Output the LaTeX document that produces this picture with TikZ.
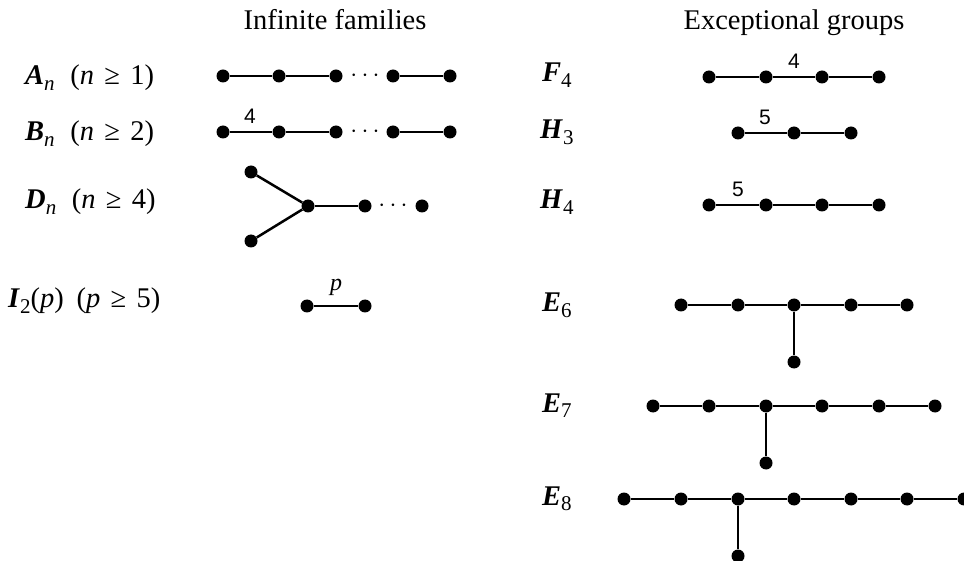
\documentclass[tikz,border=0pt]{standalone}
\usepackage{fontspec}
\setmainfont{Liberation Serif}
\newfontfamily\numfont{Liberation Sans}
\newcommand{\grp}[2]{\textbf{\textit{#1}}\raisebox{-0.2em}{\fontsize{21}{21}\selectfont #2}}
\newcommand{\gq}{\hspace{0.36em}≥\hspace{0.36em}}
\tikzset{
  vtx/.style={circle, fill=black, inner sep=0pt, minimum size=13pt},
  bond/.style={line width=2.5pt},
  grplabel/.style={anchor=base west, inner sep=0pt, font=\fontsize{28.5}{34}\selectfont},
  header/.style={anchor=base, inner sep=0pt, font=\fontsize{28.5}{34}\selectfont},
  mark4/.style={inner sep=0pt, font=\numfont\fontsize{21}{24}\selectfont},
  dotsnode/.style={inner sep=0pt, font=\fontsize{28}{34}\selectfont}
}
\begin{document}
\begin{tikzpicture}[x=1pt,y=-1pt]
\useasboundingbox (0,0) rectangle (964,561);
% headers
\node[header] (hinf) at (335,30) {Infinite families};
\node[header] (hexc) at (794,30) {Exceptional groups};
% labels left
\node[grplabel] (lA) at (25,85) {\grp{A}{\textit{n}}\hspace{0.55em}(\textit{n}\gq 1)};
\node[grplabel] (lB) at (25,141) {\grp{B}{\textit{n}}\hspace{0.55em}(\textit{n}\gq 2)};
\node[grplabel] (lD) at (25,209) {\grp{D}{\textit{n}}\hspace{0.55em}(\textit{n}\gq 4)};
\node[grplabel] (lI) at (8,308) {\grp{I}{2}(\textit{p})\hspace{0.45em}(\textit{p}\gq 5)};
% labels right
\node[grplabel] (lF) at (542,82) {\grp{F}{4}};
\node[grplabel] (lH3) at (540,139) {\grp{H}{3}};
\node[grplabel] (lH4) at (540,209) {\grp{H}{4}};
\node[grplabel] (lE6) at (542,312) {\grp{E}{6}};
\node[grplabel] (lE7) at (542,412) {\grp{E}{7}};
\node[grplabel] (lE8) at (542,505) {\grp{E}{8}};
% A_n
\node[vtx] (a1) at (223,76) {};
\node[vtx] (a2) at (279,76) {};
\node[vtx] (a3) at (336,76) {};
\node[vtx] (a4) at (393,76) {};
\node[vtx] (a5) at (450,76) {};
\node[dotsnode] (ad) at (365,76) {$\cdots$};
\draw[bond] (a1) -- (a2) -- (a3);
\draw[bond] (a4) -- (a5);
% B_n
\node[vtx] (b1) at (223,132) {};
\node[vtx] (b2) at (279,132) {};
\node[vtx] (b3) at (336,132) {};
\node[vtx] (b4) at (393,132) {};
\node[vtx] (b5) at (450,132) {};
\node[dotsnode] (bd) at (365,132) {$\cdots$};
\draw[bond] (b1) -- (b2) -- (b3);
\draw[bond] (b4) -- (b5);
\node[mark4] (b4lab) at (250,116) {4};
% D_n
\node[vtx] (d1) at (251,172) {};
\node[vtx] (d2) at (251,241) {};
\node[vtx] (d3) at (308,206) {};
\node[vtx] (d4) at (365,206) {};
\node[vtx] (d5) at (422,206) {};
\node[dotsnode] (dd) at (393,206) {$\cdots$};
\draw[bond] (d1) -- (d3) -- (d2);
\draw[bond] (d3) -- (d4);
% I_2(p)
\node[vtx] (i1) at (307,306) {};
\node[vtx] (i2) at (365,306) {};
\draw[bond] (i1) -- (i2);
\node[inner sep=0pt, font=\fontsize{24}{28}\selectfont\itshape] (plab) at (336,287) {p};
% F4
\node[vtx] (f1) at (709,77) {};
\node[vtx] (f2) at (766,77) {};
\node[vtx] (f3) at (822,77) {};
\node[vtx] (f4) at (879,77) {};
\draw[bond] (f1) -- (f2) -- (f3) -- (f4);
\node[mark4] (f4lab) at (794,61) {4};
% H3
\node[vtx] (h1) at (738,133) {};
\node[vtx] (h2) at (794,133) {};
\node[vtx] (h3) at (851,133) {};
\draw[bond] (h1) -- (h2) -- (h3);
\node[mark4] (h3lab) at (765,117) {5};
% H4
\node[vtx] (k1) at (709,205) {};
\node[vtx] (k2) at (766,205) {};
\node[vtx] (k3) at (822,205) {};
\node[vtx] (k4) at (879,205) {};
\draw[bond] (k1) -- (k2) -- (k3) -- (k4);
\node[mark4] (h4lab) at (738,189) {5};
% E6
\node[vtx] (e61) at (681,305) {};
\node[vtx] (e62) at (738,305) {};
\node[vtx] (e63) at (794,305) {};
\node[vtx] (e64) at (851,305) {};
\node[vtx] (e65) at (907,305) {};
\node[vtx] (e66) at (794,362) {};
\draw[bond] (e61) -- (e62) -- (e63) -- (e64) -- (e65);
\draw[bond] (e63) -- (e66);
% E7
\node[vtx] (e71) at (653,406) {};
\node[vtx] (e72) at (709,406) {};
\node[vtx] (e73) at (766,406) {};
\node[vtx] (e74) at (822,406) {};
\node[vtx] (e75) at (879,406) {};
\node[vtx] (e76) at (935,406) {};
\node[vtx] (e77) at (766,463) {};
\draw[bond] (e71) -- (e72) -- (e73) -- (e74) -- (e75) -- (e76);
\draw[bond] (e73) -- (e77);
% E8
\node[vtx] (e81) at (624,499) {};
\node[vtx] (e82) at (681,499) {};
\node[vtx] (e83) at (738,499) {};
\node[vtx] (e84) at (794,499) {};
\node[vtx] (e85) at (851,499) {};
\node[vtx] (e86) at (907,499) {};
\node[vtx] (e87) at (964,499) {};
\node[vtx] (e88) at (738,556) {};
\draw[bond] (e81) -- (e82) -- (e83) -- (e84) -- (e85) -- (e86) -- (e87);
\draw[bond] (e83) -- (e88);
\end{tikzpicture}
\end{document}
